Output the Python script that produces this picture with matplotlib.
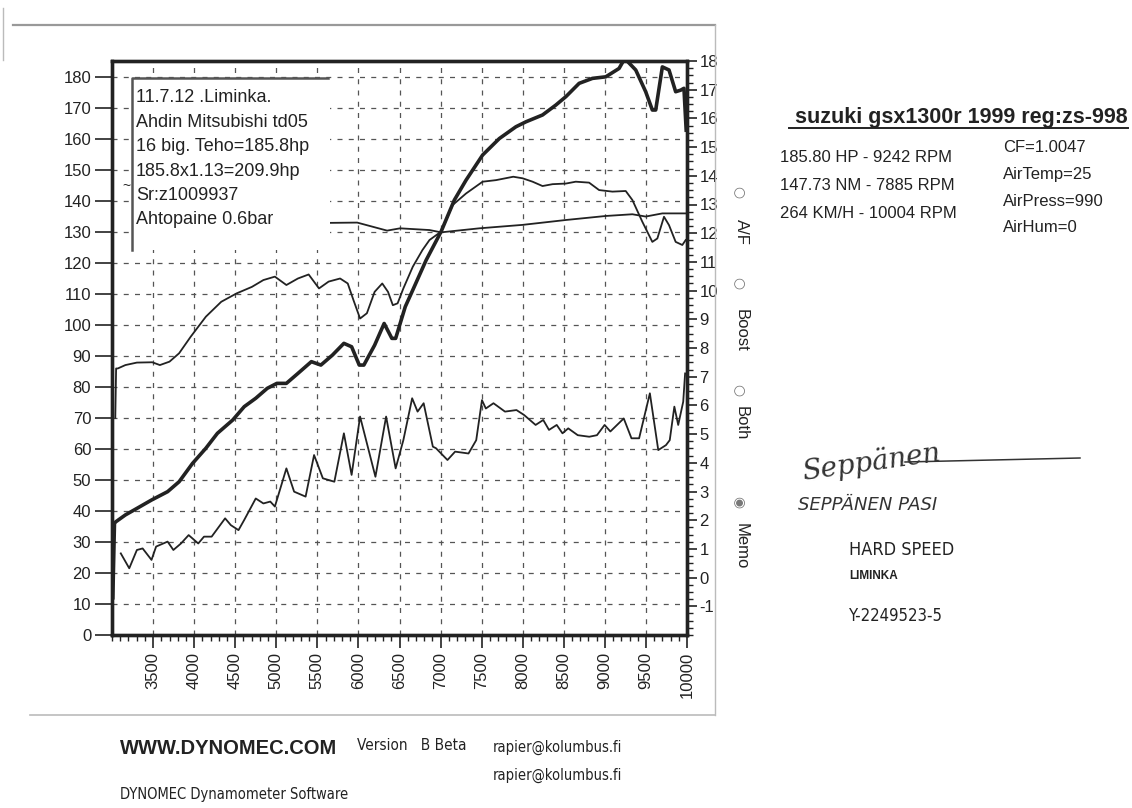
import matplotlib
matplotlib.use('Agg')
import matplotlib.pyplot as plt
from matplotlib.lines import Line2D
from matplotlib.patches import Rectangle
from matplotlib.ticker import MultipleLocator
from matplotlib import font_manager

plt.rcParams['font.family'] = ['Liberation Sans', 'DejaVu Sans']
plt.rcParams['axes.unicode_minus'] = False

# power (hp), left axis
power_rpm = [3010, 3030, 3047, 3163, 3303, 3481, 3677, 3817, 3980, 4143, 4283, 4470,
             4610, 4750, 4890, 5007, 5123, 5263, 5427, 5543, 5683, 5823, 5917, 6010,
             6066, 6197, 6313, 6407, 6453, 6570, 6662, 6824, 7006, 7168, 7310, 7512,
             7715, 7917, 8039, 8241, 8403, 8525, 8687, 8849, 9011, 9173, 9242, 9376,
             9497, 9578, 9619, 9700, 9781, 9862, 9923, 9963, 9990]
power_hp = [12, 36, 36.5, 38.7, 40.8, 43.5, 46.2, 49.4, 55.3, 60.2, 65.0, 69.3,
            73.6, 76.3, 79.5, 81.1, 81.1, 84.3, 88.1, 87.0, 90.2, 94.0, 92.9, 87.0,
            87.0, 93.4, 100.4, 95.6, 95.6, 105.8, 111.2, 120.8, 130.0, 140.2, 146.6, 154.7,
            160.0, 163.8, 165.4, 167.6, 170.8, 173.5, 177.8, 179.4, 179.9, 182.6, 185.8, 182.1,
            175.1, 169.2, 169.2, 183.1, 182.1, 175.1, 175.6, 176.2, 162.7]

# torque (Nm), left axis
torque_rpm = [3040, 3050, 3070, 3163, 3303, 3490, 3583, 3700, 3817, 3957, 4143, 4330,
              4517, 4703, 4843, 4983, 5123, 5263, 5394, 5520, 5637, 5777, 5870, 5940,
              6020, 6103, 6197, 6290, 6360, 6419, 6477, 6547, 6662, 6780, 6865, 7006,
              7148, 7310, 7512, 7674, 7885, 7998, 8120, 8241, 8363, 8525, 8646, 8808,
              8930, 9092, 9254, 9335, 9456, 9578, 9639, 9720, 9781, 9862, 9943, 9984]
torque_nm = [70, 85.9, 85.9, 87.0, 87.8, 87.9, 87.0, 88.1, 90.8, 96.1, 102.6, 107.4,
             110.1, 112.2, 114.4, 115.5, 112.8, 114.9, 116.2, 111.7, 113.9, 114.9, 113.3, 107.9,
             102.0, 103.7, 110.6, 113.3, 110.6, 106.3, 106.9, 111.7, 118.7, 124.1, 127.3, 130.0,
             138.6, 142.3, 146.1, 146.6, 147.7, 147.2, 146.1, 144.7, 145.3, 145.5, 146.1, 145.8,
             143.4, 142.9, 143.1, 140.2, 133.2, 126.7, 127.8, 134.8, 132.1, 126.7, 125.7, 127.3]

# memo trace, left axis
memo_rpm = [3107, 3210, 3303, 3373, 3481, 3537, 3677, 3747, 3840, 3933, 4050, 4120,
            4213, 4377, 4447, 4540, 4610, 4750, 4843, 4927, 4983, 5123, 5217, 5357,
            5460, 5567, 5707, 5823, 5917, 6020, 6207, 6337, 6453, 6547, 6654, 6720,
            6794, 6906, 6944, 7084, 7177, 7340, 7434, 7504, 7551, 7644, 7784, 7924,
            8017, 8157, 8250, 8320, 8414, 8484, 8554, 8670, 8810, 8904, 8997, 9067,
            9230, 9324, 9417, 9548, 9650, 9744, 9790, 9846, 9893, 9954, 9977]
memo_val = [26.3, 21.5, 27.4, 27.9, 24.2, 28.5, 30.1, 27.4, 29.5, 32.2, 29.5, 31.7,
            31.7, 37.6, 35.4, 33.8, 37.1, 44.0, 42.4, 43.0, 41.4, 53.7, 46.2, 44.6,
            58.0, 50.5, 49.4, 65.0, 51.6, 70.4, 51.0, 70.4, 53.7, 62.8, 76.3, 72.0,
            74.7, 60.7, 60.2, 56.4, 59.1, 58.5, 62.8, 75.7, 73.0, 74.7, 72.0, 72.5,
            70.9, 67.7, 69.3, 66.1, 67.7, 65.0, 66.6, 64.4, 63.9, 64.4, 67.7, 65.6,
            69.8, 63.4, 63.4, 77.9, 59.6, 61.2, 62.8, 73.6, 67.7, 75.2, 84.3]

# air/fuel ratio, right axis
af_rpm = [5657, 5985, 6349, 6507, 6865, 7006, 7472, 7998, 8525, 9011, 9335, 9497, 9700, 10000]
af_ratio = [12.36, 12.37, 12.09, 12.17, 12.11, 12.03, 12.17, 12.29, 12.46, 12.6, 12.66, 12.58,
            12.69, 12.69]

memo_lines = ['11.7.12 .Liminka.', 'Ahdin Mitsubishi td05', '16 big. Teho=185.8hp',
              '185.8x1.13=209.9hp', 'Sr:z1009937', 'Ahtopaine 0.6bar']
radio_labels = ['A/F', 'Boost', 'Both', 'Memo']

# condensed face for footer / stamp text, if one is installed
cond = [f for f in font_manager.fontManager.ttflist
        if f.stretch == 'condensed' and f.style == 'normal' and f.weight in (400, 'normal')
        and 'Sans' in f.name and 'Mono' not in f.name]
if cond:
    narrow = dict(fontproperties=font_manager.FontProperties(fname=cond[0].fname))
    nsize = 10.5
else:
    narrow = {}
    nsize = 9.5

W, H = 1132, 808
fig = plt.figure(figsize=(W / 100, H / 100), dpi=100)


def fx(x):
    return x / W


def fy(y):
    return 1 - y / H


ink = '#222222'
ax = fig.add_axes([fx(112), fy(635), fx(687) - fx(112), fy(61) - fy(635)])
ax.plot(power_rpm, power_hp, color=ink, lw=2.6, zorder=4)
ax.plot(torque_rpm, torque_nm, color=ink, lw=1.3, zorder=4)
ax.plot(memo_rpm, memo_val, color=ink, lw=1.3, zorder=4)
ax.set_xlim(3000, 10000)
ax.set_ylim(0, 185)
ax.set_xticks(range(3500, 10001, 500))
ax.xaxis.set_minor_locator(MultipleLocator(100))
ax.set_yticks(range(0, 181, 10))
ax.tick_params(axis='x', labelrotation=90, labelsize=12, length=9, width=1.2, colors=ink, pad=3)
ax.tick_params(axis='x', which='minor', length=4, width=1, colors=ink)
ax.tick_params(axis='y', labelsize=12, length=12, width=1.2, colors=ink, pad=3)
ax.grid(True, color='#555555', lw=0.9, linestyle=(0, (4, 5)))
for s in ax.spines.values():
    s.set_linewidth(2.4)
    s.set_color(ink)

ax2 = ax.twinx()
ax2.plot(af_rpm, af_ratio, color=ink, lw=1.3, zorder=4)
ax2.set_ylim(-2, 18)
ax2.set_yticks(range(-1, 19))
ax2.yaxis.set_minor_locator(MultipleLocator(0.25))
ax2.tick_params(axis='y', labelsize=12, length=7, width=1.2, colors=ink, pad=2)
ax2.tick_params(axis='y', which='minor', length=4, width=1, colors=ink)
for s in ax2.spines.values():
    s.set_linewidth(2.4)
    s.set_color(ink)

# memo box
fig.add_artist(Rectangle((fx(132), fy(250)), fx(330) - fx(132), fy(78) - fy(250),
                         transform=fig.transFigure, facecolor='white', edgecolor='none', zorder=5))
fig.add_artist(Line2D([fx(132), fx(132), fx(328)], [fy(250), fy(78), fy(78)],
                      transform=fig.transFigure, color='#555555', lw=1.8, zorder=6))
for i, line in enumerate(memo_lines):
    fig.text(fx(136), fy(98 + i * 24.4), line, fontsize=13, color=ink, va='center', zorder=7)
fig.text(fx(126), fy(186), '~', fontsize=10, color=ink, va='center', ha='center')

# radio buttons
for yc, yl, lab in zip([192, 283, 390, 502], [232, 330, 423, 546], radio_labels):
    sym = '◉' if lab == 'Memo' else '○'
    fig.text(fx(739), fy(yc), sym, fontsize=10, color='#777777', ha='center', va='center',
             family='DejaVu Sans', rotation=-90)
    fig.text(fx(741), fy(yl), lab, fontsize=12, color=ink, ha='center', va='center', rotation=-90)

# panel frame
fig.add_artist(Line2D([fx(13), fx(715)], [fy(25), fy(25)], color='#999999', lw=1.6,
                      transform=fig.transFigure))
fig.add_artist(Line2D([fx(715), fx(715)], [fy(25), fy(715)], color='#bbbbbb', lw=1,
                      transform=fig.transFigure))
fig.add_artist(Line2D([fx(30), fx(715)], [fy(715), fy(715)], color='#bbbbbb', lw=1.2,
                      transform=fig.transFigure))
fig.add_artist(Line2D([fx(3), fx(3)], [fy(8), fy(60)], color='#bbbbbb', lw=1,
                      transform=fig.transFigure))

# right info panel
fig.text(fx(1128), fy(117), 'suzuki gsx1300r 1999 reg:zs-998', fontsize=15.5,
         fontweight='bold', color=ink, ha='right', va='center')
fig.add_artist(Line2D([fx(789), fx(1128)], [fy(128), fy(128)], transform=fig.transFigure,
                      color=ink, lw=1.4))
for i, t in enumerate(['185.80 HP - 9242 RPM', '147.73 NM - 7885 RPM', '264 KM/H - 10004 RPM']):
    fig.text(fx(780), fy(158 + i * 27.5), t, fontsize=12, color=ink, va='center')
for i, t in enumerate(['CF=1.0047', 'AirTemp=25', 'AirPress=990', 'AirHum=0']):
    fig.text(fx(1003), fy(147 + i * 27), t, fontsize=12, color=ink, va='center')

# signature block
fig.text(fx(800), fy(462), 'Seppänen', fontsize=20, style='italic', color='#333333',
         va='center', rotation=8, family='DejaVu Serif')
fig.add_artist(Line2D([fx(905), fx(1080)], [fy(462), fy(458)], transform=fig.transFigure,
                      color='#333333', lw=1.1))
fig.text(fx(798), fy(505), 'SEPPÄNEN PASI', fontsize=13, style='italic', color='#333333',
         va='center', family='DejaVu Sans', fontweight='light')
fig.text(fx(849), fy(550), 'HARD SPEED', fontsize=13, color=ink, va='center', **narrow)
fig.text(fx(849), fy(576), 'LIMINKA', fontsize=8.5, fontweight='bold', color=ink, va='center')
fig.text(fx(849), fy(616), 'Y-2249523-5', fontsize=12, color=ink, va='center', **narrow)

# footer
fig.text(fx(120), fy(748), 'WWW.DYNOMEC.COM', fontsize=14.5, fontweight='bold', color=ink,
         va='center')
fig.text(fx(357), fy(746), 'Version   B Beta', fontsize=nsize + 0.5, color=ink, va='center',
         **narrow)
fig.text(fx(493), fy(747), 'rapier@kolumbus.fi', fontsize=nsize, color=ink, va='center', **narrow)
fig.text(fx(493), fy(775), 'rapier@kolumbus.fi', fontsize=nsize, color=ink, va='center', **narrow)
fig.text(fx(120), fy(795), 'DYNOMEC Dynamometer Software', fontsize=nsize, color=ink,
         va='center', **narrow)

fig.savefig('out.png', dpi=100, facecolor='white')
